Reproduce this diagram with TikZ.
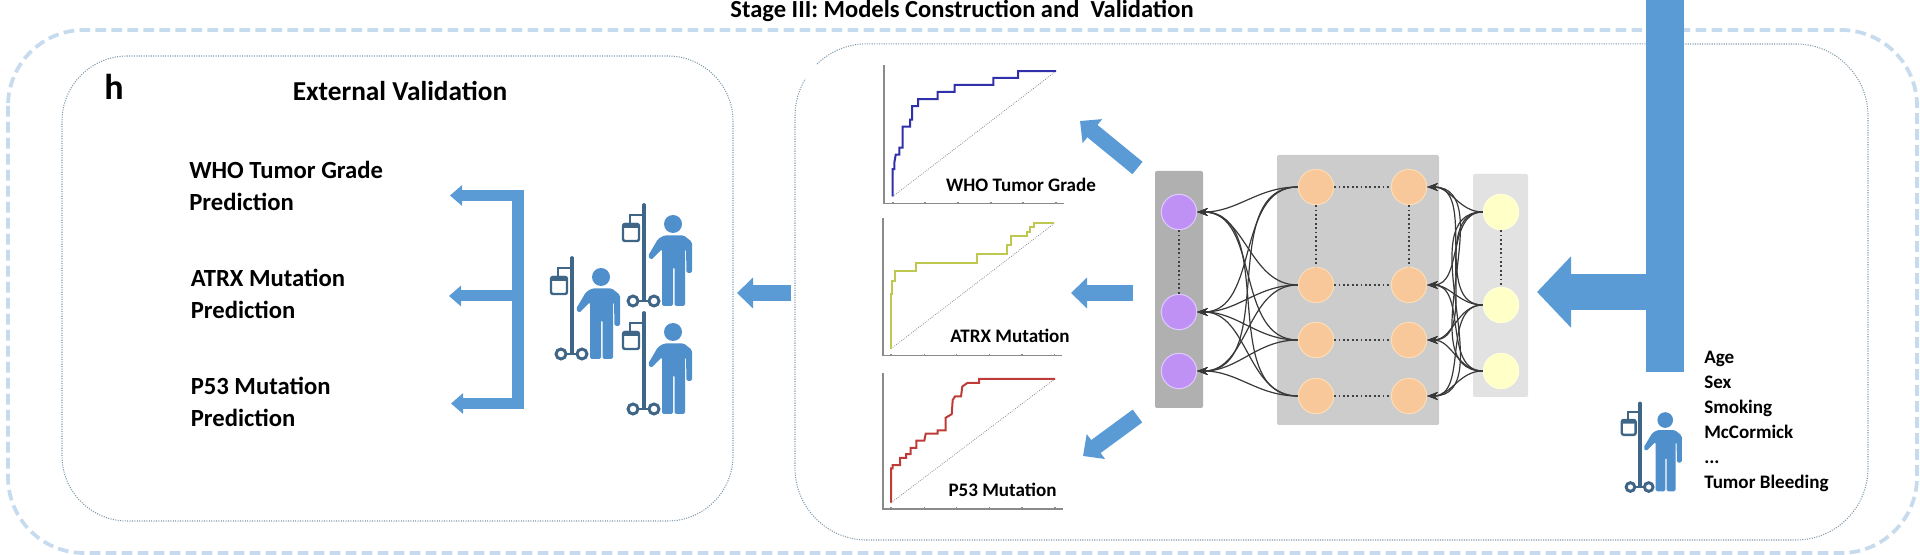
\documentclass[tikz,border=0pt]{standalone}
\usepackage{fontspec}
\setmainfont{Carlito}
\usepackage{xcolor}
\usetikzlibrary{arrows,arrows.meta,positioning}

\definecolor{framecol}{HTML}{C6DCEE}
\definecolor{panelcol}{HTML}{7F98AB}
\definecolor{arrowcol}{HTML}{5B9BD5}
\definecolor{bodycol}{HTML}{4F8FCB}
\definecolor{polecol}{HTML}{3F6687}
\definecolor{axiscol}{HTML}{8A8A8A}
\definecolor{outfill}{HTML}{BF91F5}
\definecolor{outedge}{HTML}{E0C8FF}
\definecolor{hidfill}{HTML}{F8C89A}
\definecolor{hidedge}{HTML}{FBDDB5}
\definecolor{infill}{HTML}{FFFFC8}
\definecolor{inedge}{HTML}{FFFFD8}
\definecolor{outback}{HTML}{B0B0B0}
\definecolor{hidback}{HTML}{CCCCCC}
\definecolor{inback}{HTML}{E2E2E2}
\definecolor{rocblue}{HTML}{3030AA}
\definecolor{rocyellow}{HTML}{BEC850}
\definecolor{rocred}{HTML}{BE3C37}

\tikzset{
  panel/.style={draw=panelcol, line width=0.8pt, densely dotted},
  layerbox/.style={inner sep=0pt, rounded corners=1.5pt},
  neuron/.style={circle, inner sep=0pt, minimum size=26.5pt, line width=0.8pt},
  outn/.style={neuron, fill=outfill, draw=outedge},
  hidn/.style={neuron, fill=hidfill, draw=hidedge},
  inn/.style={neuron, fill=infill, draw=inedge},
  wire/.style={-{Stealth[length=8pt, width=6pt]}, draw=black!78, line width=0.9pt},
  link/.style={dotted, draw=black!75, line width=1.3pt},
  bigarrow/.style={draw=arrowcol, line width=27pt, -{Triangle[length=25.5pt, width=52pt]}},
  midarrow/.style={draw=arrowcol, line width=12pt, -{Triangle[length=12pt, width=22.5pt]}},
  smallarrow/.style={draw=arrowcol, line width=8.25pt, -{Triangle[length=9pt, width=15pt]}},
  axisline/.style={draw=axiscol, line width=0.8pt},
  chance/.style={draw=axiscol, line width=0.6pt, densely dotted},
  roc/.style={line width=1.5pt},
  heading/.style={font=\bfseries\fontsize{20.5}{24}\selectfont, inner sep=0pt},
  predtext/.style={font=\bfseries\fontsize{18.5}{24}\selectfont, inner sep=0pt, align=left, anchor=west},
  charttext/.style={font=\bfseries\fontsize{14.3}{18}\selectfont, inner sep=0pt},
  patient/.pic={
    \fill[bodycol] (29,19) circle (9);
    \fill[bodycol, rounded corners=1.2pt] (7,55) -- (4,51) -- (14,34) -- (20,30.5) -- (40,30.5) -- (48,37)
      -- (48,68) -- (42.5,68) -- (42,44) -- (41,44) -- (41,101) -- (30.5,101) -- (30.5,62) -- (29,62)
      -- (29,101) -- (18,101) -- (18,44) -- cycle;
    \draw[polecol, line width=2.8pt, line cap=round] (0,0) -- (0,95);
    \draw[polecol, line width=1.8pt] (-13,10) -- (0,10) (-14,9) -- (-14,18) (-11,96) -- (10,96);
    \draw[polecol, line width=1.8pt, fill=white, rounded corners=1.5pt] (-21,19) rectangle (-5,36);
    \fill[polecol, rounded corners=1pt] (-21,18) rectangle (-5,23);
    \draw[polecol, line width=2.2pt, fill=white] (-11,96) circle (5) (10,96) circle (5);
  }
}

\begin{document}
\begin{tikzpicture}[x=0.75pt, y=-0.75pt]
\clip (0,0) rectangle (1920,555);

\draw[draw=framecol, line width=2.8pt, dash pattern=on 8pt off 4pt, rounded corners=57pt] (8,30) rectangle (1917,553);
\draw[panel, rounded corners=49pt] (62,56) rectangle (733,521);
\draw[panel] (817,64) arc[start angle=226, end angle=270, radius=72] -- (1796,44)
  arc[start angle=270, end angle=360, radius=72] -- (1868,468)
  arc[start angle=0, end angle=90, radius=72] -- (867,540)
  arc[start angle=90, end angle=180, radius=72] -- (795,116)
  arc[start angle=180, end angle=211, radius=72];

\node[anchor=base, inner sep=0pt, font=\bfseries\fontsize{18.4}{22}\selectfont] (stage) at (962,18) {Stage III: Models Construction and\ \ Validation};
\node[inner sep=0pt, font=\bfseries\fontsize{27}{30}\selectfont] (h) at (114,87) {h};
\node[heading] (extval) at (400,91) {External Validation};
\node[predtext] (pred1) at (189,186) {WHO Tumor Grade\\Prediction};
\node[predtext] (pred2) at (190.5,294) {ATRX Mutation\\Prediction};
\node[predtext] (pred3) at (190.5,402) {P53 Mutation\\Prediction};

\coordinate (ba) at (524,195.5);
\coordinate (bb) at (512,296);
\coordinate (bc) at (524,403.5);
\coordinate (ta) at (450,195.5);
\coordinate (tb) at (449,296);
\coordinate (tc) at (451,403.5);
\draw[draw=arrowcol, line width=9pt] (518,190) -- (518,409);
\draw[smallarrow] (ba) to (ta);
\draw[smallarrow] (bb) to (tb);
\draw[smallarrow] (bc) to (tc);

\pic (pleft) at (572,258) {patient};
\pic (pup) at (644,205) {patient};
\pic (plow) at (644,313) {patient};
\pic[scale=0.87] (pin) at (1640,403.5) {patient};

\coordinate (ma) at (791,293);
\coordinate (mb) at (737,293);
\draw[midarrow] (ma) to (mb);

\draw[axisline] (884,65.5) -- (884,203.5) -- (1064,203.5);
\draw[axisline] (893,203.5) -- +(0,-1.5) (925,203.5) -- +(0,-1.5) (958,203.5) -- +(0,-1.5) (991,203.5) -- +(0,-1.5) (1023,203.5) -- +(0,-1.5) (1056,203.5) -- +(0,-1.5);
\draw[axisline] (884,71) -- +(-1.5,0) (884,96) -- +(-1.5,0) (884,121) -- +(-1.5,0) (884,146) -- +(-1.5,0) (884,171) -- +(-1.5,0) (884,196) -- +(-1.5,0);
\draw[chance] (892.7,196.5) -- (1056,71.2);
\draw[roc, draw=rocblue] (892.7,196.5) -- (892.7,169.2) -- (894.3,169.2) -- (894.3,162.8) -- (895.7,154.7) -- (899.3,154.7) -- (899.3,147.6) -- (902.7,147.6) -- (902.7,126.7) -- (910,126.7) -- (910,119.6) -- (912,119.6) -- (912,106.2) -- (918,106.2) -- (918,99.1) -- (937.7,99.1) -- (937.7,92) -- (954.7,92) -- (954.7,85) -- (993.3,85) -- (993.3,77.9) -- (1018,77.9) -- (1018,71.2) -- (1056,71.2);
\node[charttext] (chart1) at (1021,185) {WHO Tumor Grade};

\draw[axisline] (883,218.4) -- (883,355.8) -- (1061.7,355.8);
\draw[axisline] (891,355.8) -- +(0,-1.5) (924.3,355.8) -- +(0,-1.5) (956.7,355.8) -- +(0,-1.5) (989.3,355.8) -- +(0,-1.5) (1022,355.8) -- +(0,-1.5) (1054.3,355.8) -- +(0,-1.5);
\draw[axisline] (883,224.4) -- +(-1.5,0) (883,249.2) -- +(-1.5,0) (883,274.3) -- +(-1.5,0) (883,299.5) -- +(-1.5,0) (883,324.2) -- +(-1.5,0) (883,349.4) -- +(-1.5,0);
\draw[chance] (891,348.7) -- (1054.3,223.4);
\draw[roc, draw=rocyellow] (891,348.7) -- (891,293.8) -- (892.3,293.8) -- (892.3,280.7) -- (895.3,280.7) -- (895.3,271.2) -- (916.3,271.2) -- (916.3,262.7) -- (977,262.7) -- (977,253.8) -- (1007,253.8) -- (1007,245) -- (1010.7,245) -- (1010.7,236.5) -- (1027.3,236.5) -- (1027.3,231.9) -- (1030,231.9) -- (1030,227.3) -- (1034.3,227.3) -- (1034.3,223.4) -- (1054.3,223.4);
\node[charttext] (chart2) at (1010,335.6) {ATRX Mutation};

\draw[axisline] (883,373.5) -- (883,509) -- (1063,509);
\draw[axisline] (891,509) -- +(0,-1.5) (924.3,509) -- +(0,-1.5) (956.7,509) -- +(0,-1.5) (989.3,509) -- +(0,-1.5) (1022,509) -- +(0,-1.5) (1055,509) -- +(0,-1.5);
\draw[axisline] (883,379.5) -- +(-1.5,0) (883,404.2) -- +(-1.5,0) (883,429) -- +(-1.5,0) (883,453.5) -- +(-1.5,0) (883,477.9) -- +(-1.5,0) (883,502.7) -- +(-1.5,0);
\draw[chance] (891,502.7) -- (1055,378.8);
\draw[roc, draw=rocred] (891,502.7) -- (891,468.3) -- (892.7,468.3) -- (892.7,465.1) -- (900,465.1) -- (900,458) -- (906,458) -- (906,454.2) -- (910.7,454.2) -- (910.7,447.8) -- (916.3,447.8) -- (916.3,440.7) -- (924.3,440.7) -- (925.7,433.6) -- (937.7,433.6) -- (937.7,430.4) -- (945.7,430.4) -- (945.7,417.7) -- (951.7,414.2) -- (952.7,400) -- (955,396.5) -- (961,396.5) -- (962.3,386.5) -- (967.3,383) -- (979,383) -- (979,378.8) -- (1055,378.8);
\node[charttext] (chart3) at (1002.5,490) {P53 Mutation};

\coordinate (ua) at (1137.5,168);
\coordinate (ub) at (1080,121);
\draw[midarrow] (ua) to (ub);
\coordinate (ca) at (1133,293);
\coordinate (cb) at (1071,293);
\draw[midarrow] (ca) to (cb);
\coordinate (da) at (1137.5,416);
\coordinate (db) at (1083,456);
\draw[midarrow] (da) to (db);

\node[layerbox, fill=outback, minimum width=36pt, minimum height=177.75pt] (outbox) at (1179,289.5) {};
\node[layerbox, fill=hidback, minimum width=121.5pt, minimum height=202.5pt] (hidbox) at (1358,290) {};
\node[layerbox, fill=inback, minimum width=41.25pt, minimum height=167.25pt] (inbox) at (1500.5,285.5) {};

\node[outn] (a1) at (1179,212) {};
\node[outn] (a2) at (1179,312) {};
\node[outn] (a3) at (1179,371) {};
\node[hidn] (b1) at (1316,187) {};
\node[hidn] (b2) at (1316,285) {};
\node[hidn] (b3) at (1316,340) {};
\node[hidn] (b4) at (1316,396) {};
\node[hidn] (c1) at (1409,187) {};
\node[hidn] (c2) at (1409,285) {};
\node[hidn] (c3) at (1409,340) {};
\node[hidn] (c4) at (1409,396) {};
\node[inn] (d1) at (1501,212) {};
\node[inn] (d2) at (1501,305) {};
\node[inn] (d3) at (1501,371) {};

\draw[link] (a1) to (a2);
\draw[link] (b1) to (b2);
\draw[link] (c1) to (c2);
\draw[link] (d1) to (d2);
\draw[link] (b1) to (c1);
\draw[link] (b2) to (c2);
\draw[link] (b3) to (c3);
\draw[link] (b4) to (c4);

\draw[wire] (b1) to[out=180, in=0] (a1);
\draw[wire] (b1) to[out=180, in=0] (a2);
\draw[wire] (b1) to[out=180, in=0] (a3);
\draw[wire] (b2) to[out=180, in=0] (a1);
\draw[wire] (b2) to[out=180, in=0] (a2);
\draw[wire] (b2) to[out=180, in=0] (a3);
\draw[wire] (b3) to[out=180, in=0] (a1);
\draw[wire] (b3) to[out=180, in=0] (a2);
\draw[wire] (b3) to[out=180, in=0] (a3);
\draw[wire] (b4) to[out=180, in=0] (a1);
\draw[wire] (b4) to[out=180, in=0] (a2);
\draw[wire] (b4) to[out=180, in=0] (a3);
\draw[wire] (d1) to[out=180, in=0] (c1);
\draw[wire] (d1) to[out=180, in=0] (c2);
\draw[wire] (d1) to[out=180, in=0] (c3);
\draw[wire] (d1) to[out=180, in=0] (c4);
\draw[wire] (d2) to[out=180, in=0] (c1);
\draw[wire] (d2) to[out=180, in=0] (c2);
\draw[wire] (d2) to[out=180, in=0] (c3);
\draw[wire] (d2) to[out=180, in=0] (c4);
\draw[wire] (d3) to[out=180, in=0] (c1);
\draw[wire] (d3) to[out=180, in=0] (c2);
\draw[wire] (d3) to[out=180, in=0] (c3);
\draw[wire] (d3) to[out=180, in=0] (c4);

\coordinate (va) at (1665,-5);
\coordinate (vb) at (1665,372);
\coordinate (ea) at (1665,292);
\coordinate (eb) at (1537,292);
\draw[draw=arrowcol, line width=28.5pt] (va) to (vb);
\draw[bigarrow] (ea) to (eb);

\node[anchor=west, align=left, inner sep=0pt, font=\bfseries\fontsize{14.3}{18.75}\selectfont] (clin) at (1704,421) {Age\\Sex\\Smoking\\McCormick\\...\\Tumor Bleeding};
\end{tikzpicture}
\end{document}
